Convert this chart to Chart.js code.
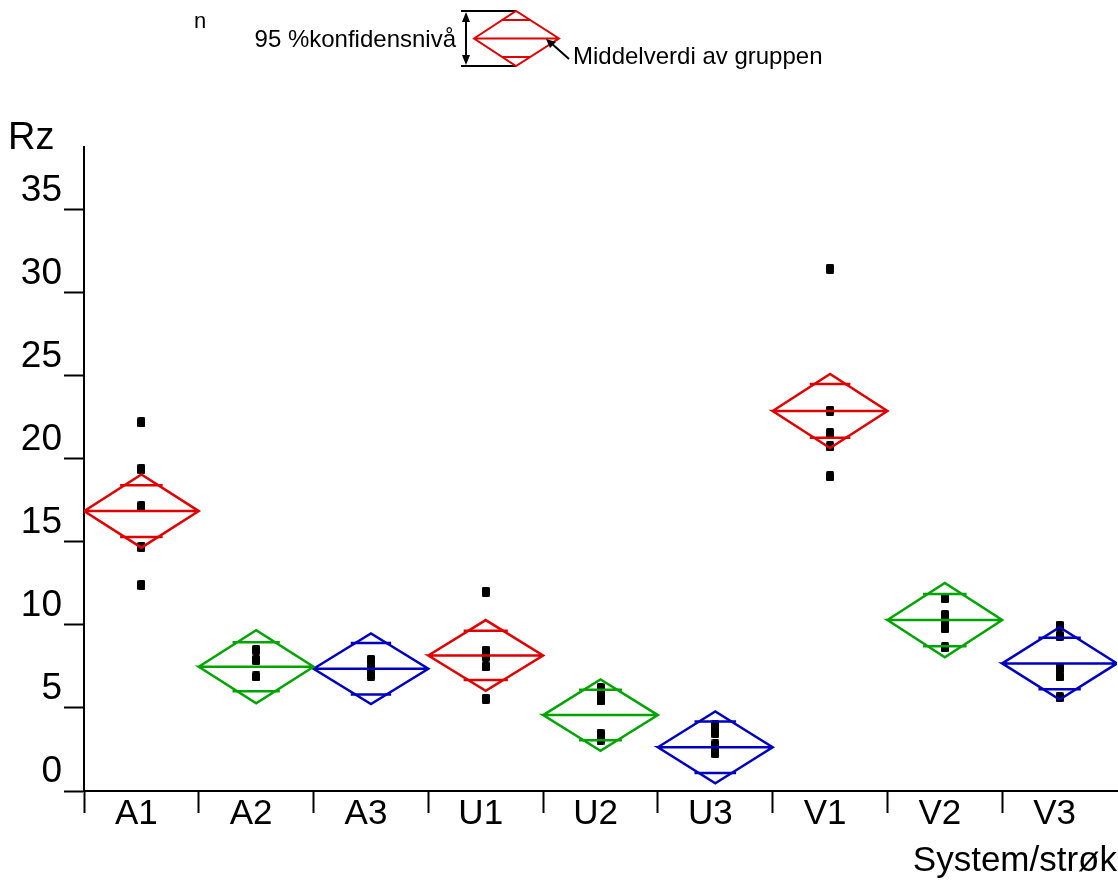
<!DOCTYPE html>
<html>
<head>
<meta charset="utf-8">
<script src="https://cdn.jsdelivr.net/npm/chart.js@4.4.1/dist/chart.umd.min.js"></script>
<style>
  html, body { margin: 0; padding: 0; background: #fff; }
  #chart { display: block; }
</style>
</head>
<body>
<canvas id="chart" width="1118" height="888"></canvas>
<script>
const groups = ["A1", "A2", "A3", "U1", "U2", "U3", "V1", "V2", "V3"];
const means = [16.85, 7.48, 7.36, 8.16, 4.57, 2.63, 22.88, 10.29, 7.68];
const ciHalf = [2.2, 2.2, 2.13, 2.13, 2.15, 2.16, 2.23, 2.24, 2.18];
const overlapHalf = [1.56, 1.47, 1.55, 1.48, 1.52, 1.55, 1.62, 1.57, 1.55];

const obsA1 = [22.2, 19.4, 17.15, 14.7, 12.4];
const obsA2 = [8.5, 7.9, 6.9];
const obsA3 = [7.9, 7.4, 6.95];
const obsU1 = [12.0, 8.45, 8.1, 7.5, 5.55];
const obsU2 = [6.2, 5.8, 5.45, 3.45, 3.1];
const obsU3 = [3.95, 3.5, 2.8, 2.3];
const obsV1 = [31.45, 22.9, 21.55, 20.75, 18.95];
const obsV2 = [11.6, 10.6, 10.2, 9.8, 8.65];
const obsV3 = [9.95, 9.35, 7.4, 6.9, 5.65];
const observations = [obsA1, obsA2, obsA3, obsU1, obsU2, obsU3, obsV1, obsV2, obsV3];

const yTicks = [0, 5, 10, 15, 20, 25, 30, 35];
const yMax = 38.77;

const groupColors = ["#e00000", "#00a400", "#0000c0"];
const FONT = "'Liberation Sans', Arial, sans-serif";

// small black block used for every observation
const dot = document.createElement("canvas");
dot.width = 8;
dot.height = 10;
{
  const c = dot.getContext("2d");
  c.fillStyle = "#000";
  c.beginPath();
  c.roundRect(0, 0, 8, 10, 1.5);
  c.fill();
}

// diamond + mean line for each group, overlap marks separately
const datasets = [];
groups.forEach((g, i) => {
  const m = means[i], c = ciHalf[i], o = overlapHalf[i];
  const color = groupColors[i % 3];
  datasets.push({
    type: "line",
    label: g,
    data: [
      { x: i - 0.5, y: m },
      { x: i, y: m + c },
      { x: i + 0.5, y: m },
      { x: i, y: m - c },
      { x: i - 0.5, y: m },
      { x: i + 0.5, y: m },
    ],
    borderColor: color,
    borderWidth: 2.5,
    pointRadius: 0,
    tension: 0,
    fill: false,
    order: 1,
  });
  const reach = 0.5 * (1 - o / c) + 0.04;
  datasets.push({
    type: "line",
    label: g + " overlap",
    data: [
      { x: i - reach, y: m + o },
      { x: i + reach, y: m + o },
      { x: i, y: null },
      { x: i - reach, y: m - o },
      { x: i + reach, y: m - o },
    ],
    borderColor: color,
    borderWidth: 2.5,
    pointRadius: 0,
    spanGaps: false,
    fill: false,
    order: 1,
  });
});

datasets.push({
  type: "scatter",
  label: "Rz",
  data: observations.flatMap((vals, i) => vals.map(v => ({ x: i, y: v }))),
  pointStyle: dot,
  pointRadius: 5,
  order: 2,
});

// legend sketch at the top, plus the "Rz" and "n" texts
const notes = {
  id: "notes",
  afterDraw(chart) {
    const ctx = chart.ctx;
    ctx.save();
    ctx.fillStyle = "#000";
    ctx.textBaseline = "alphabetic";
    ctx.font = "38px " + FONT;
    ctx.fillText("Rz", 8, 149);

    ctx.font = "22px " + FONT;
    ctx.fillText("n", 194, 28);
    ctx.font = "24px " + FONT;
    ctx.textAlign = "right";
    ctx.fillText("95 %konfidensnivå", 456, 47);
    ctx.textAlign = "left";
    ctx.fillText("Middelverdi av gruppen", 573, 64);

    // bracket lines and double arrow
    ctx.strokeStyle = "#000";
    ctx.lineWidth = 2;
    ctx.beginPath();
    ctx.moveTo(461, 11); ctx.lineTo(516, 11);
    ctx.moveTo(461, 66); ctx.lineTo(516, 66);
    ctx.moveTo(466, 18); ctx.lineTo(466, 59);
    ctx.stroke();
    ctx.beginPath();
    ctx.moveTo(466, 12); ctx.lineTo(462, 22); ctx.lineTo(470, 22); ctx.closePath();
    ctx.moveTo(466, 65); ctx.lineTo(462, 55); ctx.lineTo(470, 55); ctx.closePath();
    ctx.fill();

    // example diamond
    ctx.strokeStyle = groupColors[0];
    ctx.beginPath();
    ctx.moveTo(474, 38.5); ctx.lineTo(516, 11); ctx.lineTo(559, 38.5);
    ctx.lineTo(516, 66); ctx.closePath();
    ctx.moveTo(474, 38.5); ctx.lineTo(559, 38.5);
    ctx.moveTo(502, 20); ctx.lineTo(530, 20);
    ctx.moveTo(502, 57); ctx.lineTo(530, 57);
    ctx.stroke();

    // pointer to the mean line
    ctx.strokeStyle = "#000";
    ctx.beginPath();
    ctx.moveTo(569, 59); ctx.lineTo(551, 43);
    ctx.stroke();
    ctx.beginPath();
    ctx.moveTo(546, 39); ctx.lineTo(556, 42); ctx.lineTo(550, 48); ctx.closePath();
    ctx.fill();
    ctx.restore();
  },
};

new Chart(document.getElementById("chart"), {
  data: { datasets },
  options: {
    responsive: false,
    animation: false,
    events: [],
    layout: { autoPadding: false, padding: { top: 147, right: 1, left: 0, bottom: 0 } },
    plugins: { legend: { display: false }, tooltip: { enabled: false } },
    scales: {
      x: {
        type: "linear",
        min: -0.5,
        max: groups.length - 0.5,
        afterBuildTicks(s) {
          const t = [];
          groups.forEach((g, i) => { t.push({ value: i - 0.5 }, { value: i }); });
          t.push({ value: groups.length - 0.5 });
          s.ticks = t;
        },
        afterFit(s) {
          s.height = 97;
          s.paddingLeft = 0;
          s.paddingRight = 0;
        },
        border: { display: true, color: "#000", width: 2 },
        grid: {
          drawOnChartArea: false,
          tickLength: 22,
          tickWidth: 2,
          tickColor: c => (Number.isInteger(c.tick.value) || c.tick.value > groups.length - 1) ? "rgba(0,0,0,0)" : "#000",
        },
        ticks: {
          autoSkip: false,
          maxRotation: 0,
          padding: -20,
          labelOffset: -5,
          color: "#000",
          font: { family: FONT, size: 35 },
          callback: v => Number.isInteger(v) ? groups[v] : "",
        },
        title: {
          display: true,
          text: "System/strøk",
          align: "end",
          color: "#000",
          font: { family: FONT, size: 35 },
          padding: { top: 0, bottom: 6 },
        },
      },
      y: {
        min: 0,
        max: yMax,
        afterBuildTicks(s) { s.ticks = yTicks.map(v => ({ value: v })); },
        afterFit(s) {
          s.width = 84;
          s.paddingTop = 0;
          s.paddingBottom = 0;
        },
        border: { display: true, color: "#000", width: 2 },
        grid: { drawOnChartArea: false, tickLength: 20, tickWidth: 2, tickColor: "#000" },
        ticks: {
          padding: 2,
          labelOffset: -19,
          color: "#000",
          font: { family: FONT, size: 37 },
        },
      },
    },
  },
  plugins: [notes],
});
</script>
</body>
</html>
